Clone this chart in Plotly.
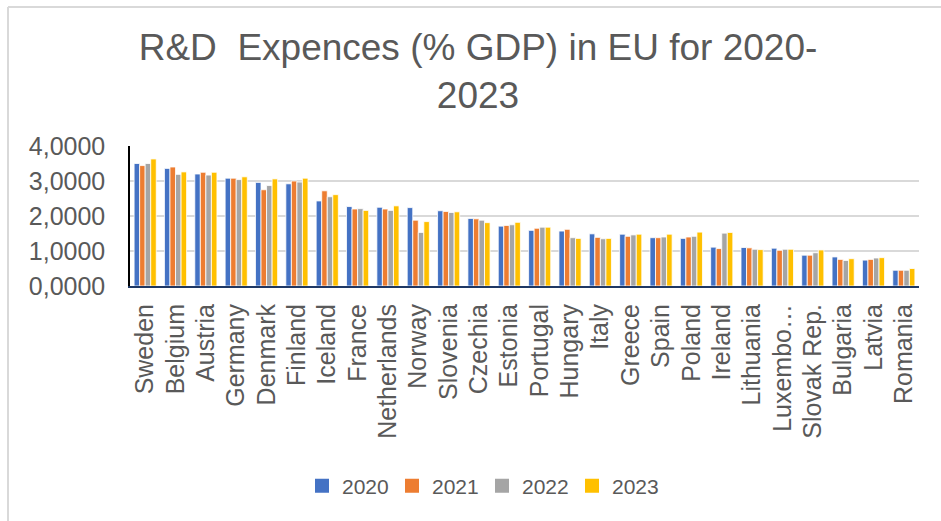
import plotly.graph_objects as go

countries = ["Sweden", "Belgium", "Austria", "Germany", "Denmark", "Finland", "Iceland",
             "France", "Netherlands", "Norway", "Slovenia", "Czechia", "Estonia", "Portugal",
             "Hungary", "Italy", "Greece", "Spain", "Poland", "Ireland", "Lithuania",
             "Luxembo…", "Slovak Rep.", "Bulgaria", "Latvia", "Romania"]

rd_2020 = [3.50, 3.36, 3.20, 3.08, 2.96, 2.92, 2.43, 2.27, 2.25, 2.24, 2.15, 1.93, 1.71,
           1.59, 1.57, 1.49, 1.48, 1.38, 1.36, 1.11, 1.10, 1.08, 0.88, 0.83, 0.74, 0.45]
rd_2021 = [3.44, 3.40, 3.25, 3.08, 2.75, 3.00, 2.72, 2.20, 2.20, 1.88, 2.13, 1.92, 1.73,
           1.65, 1.62, 1.39, 1.42, 1.38, 1.40, 1.07, 1.09, 1.02, 0.88, 0.76, 0.76, 0.45]
rd_2022 = [3.50, 3.19, 3.17, 3.04, 2.87, 2.97, 2.55, 2.21, 2.16, 1.53, 2.10, 1.88, 1.75,
           1.68, 1.38, 1.35, 1.46, 1.40, 1.42, 1.51, 1.05, 1.05, 0.95, 0.73, 0.80, 0.45]
rd_2023 = [3.63, 3.26, 3.25, 3.12, 3.06, 3.08, 2.61, 2.16, 2.29, 1.84, 2.12, 1.81, 1.82,
           1.68, 1.36, 1.36, 1.48, 1.48, 1.54, 1.53, 1.04, 1.05, 1.03, 0.78, 0.81, 0.50]

years = ["2020", "2021", "2022", "2023"]
series = [rd_2020, rd_2021, rd_2022, rd_2023]
colors = ["#4472C4", "#ED7D31", "#A5A5A5", "#FFC000"]

W, H = 941, 521
ML, MR, MT, MB = 130, 22, 146, 235
PW, PH = W - ML - MR, H - MT - MB


def px_x(x):
    return (x - ML) / PW


def px_y(y):
    return (H - MB - y) / PH


text_color = "#595959"
font_family = "Liberation Sans, Arial, sans-serif"

fig = go.Figure()
for name, vals, col in zip(years, series, colors):
    fig.add_trace(go.Bar(
        x=countries, y=vals, name=name, legendgroup=name, showlegend=False,
        marker=dict(color=col, line=dict(color="white", width=0.8)),
    ))
# legend entries with larger square swatches
for name, col in zip(years, colors):
    fig.add_trace(go.Scatter(
        x=[None], y=[None], mode="markers", name=name, legendgroup=name,
        marker=dict(symbol="square", size=14, color=col),
    ))

fig.update_layout(
    width=W, height=H,
    margin=dict(l=ML, r=MR, t=MT, b=MB),
    paper_bgcolor="white", plot_bgcolor="white",
    separators=", ",
    barmode="group", bargap=0.27, bargroupgap=0.0,
    font=dict(family=font_family, color=text_color),
    title=dict(
        text="R&D  Expences (% GDP) in EU for 2020-<br>2023",
        x=478 / W, xanchor="center", xref="container",
        y=1 - 60 / H, yanchor="middle", yref="container",
        font=dict(size=37, color=text_color, family=font_family),
    ),
    legend=dict(
        orientation="h", x=px_x(482), xanchor="center",
        y=px_y(486), yanchor="middle",
        font=dict(size=21, color=text_color),
        entrywidth=45, entrywidthmode="pixels", traceorder="normal",
    ),
    showlegend=True,
)

fig.update_yaxes(
    range=[0, 4], dtick=1, tickformat=".4f",
    showgrid=True, gridcolor="#D9D9D9", gridwidth=2,
    zeroline=False, showline=True, linecolor="black", linewidth=1.5,
    tickfont=dict(size=25, color=text_color), ticks="", ticklabelstandoff=18,
)
fig.update_xaxes(
    tickangle=-90, showline=True, linecolor="#1F3864", linewidth=2,
    tickfont=dict(size=25, color=text_color), ticks="", ticklabelstandoff=6,
)

# chart frame: left and top edges
border = dict(color="#D9D9D9", width=2)
fig.add_shape(type="line", xref="paper", yref="paper",
              x0=px_x(8), x1=px_x(8), y0=px_y(7), y1=px_y(H), line=border)
fig.add_shape(type="line", xref="paper", yref="paper",
              x0=px_x(8), x1=px_x(W), y0=px_y(7), y1=px_y(7), line=border)

fig.write_html("out.html")
